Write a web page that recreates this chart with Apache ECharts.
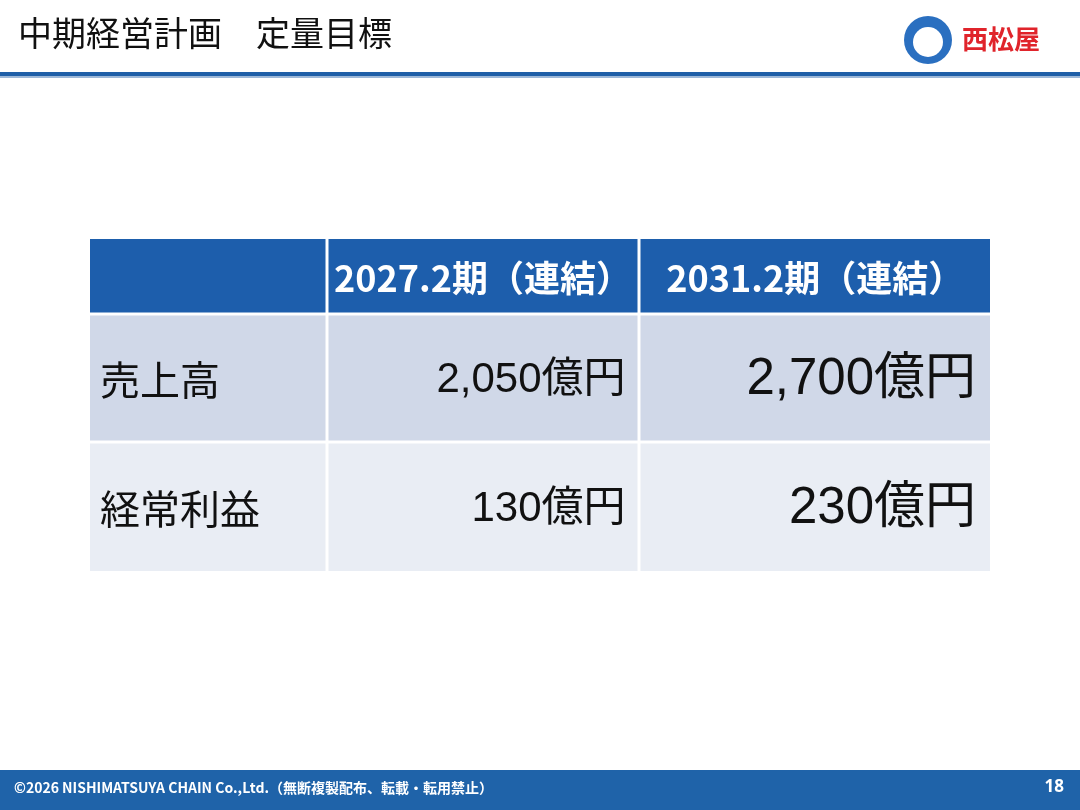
<!DOCTYPE html>
<html><head><meta charset="utf-8">
<script src="https://cdn.jsdelivr.net/npm/echarts@6/dist/echarts.min.js"></script>
<style>html,body{margin:0;padding:0;background:#fff}#c{width:1080px;height:810px}</style>
</head><body><div id="c"></div>
<script>
var periods = ['2027.2期（連結）', '2031.2期（連結）'];
var metrics = ['売上高', '経常利益'];
var target2027 = ['2,050億円', '130億円'];
var target2031 = ['2,700億円', '230億円'];

// layout (px within table grid)
var colEdges = [0, 237, 549, 900];
var rowEdges = [0, 75, 203, 332];
var gap = 3;

var cells = [];
cells.push([0, 0, '', 'head']);
periods.forEach(function (p, i) { cells.push([i + 1, 0, p, 'head']); });
metrics.forEach(function (m, r) {
  cells.push([0, r + 1, m, 'label']);
  cells.push([1, r + 1, target2027[r], 'v1']);
  cells.push([2, r + 1, target2031[r], 'v2']);
});

var rowColors = ['#1d5eac', '#d0d8e8', '#e9edf4'];
var chart = echarts.init(document.getElementById('c'));
chart.setOption({
  animation: false,
  grid: { left: 90, top: 239, width: 900, height: 332 },
  xAxis: { type: 'value', min: 0, max: 900, show: false },
  yAxis: { type: 'value', min: 0, max: 332, inverse: true, show: false },
  series: [{
    type: 'custom',
    data: cells,
    renderItem: function (params, api) {
      var c = api.value(0), r = api.value(1);
      var d = cells[params.dataIndex];
      var p0 = api.coord([colEdges[c], rowEdges[r]]);
      var p1 = api.coord([colEdges[c + 1], rowEdges[r + 1]]);
      var x0 = p0[0] + (c > 0 ? gap / 2 : 0), x1 = p1[0] - (c < 2 ? gap / 2 : 0);
      var y0 = p0[1] + (r > 0 ? gap / 2 : 0), y1 = p1[1] - (r < 2 ? gap / 2 : 0);
      var kind = d[3], txt;
      var cy = (y0 + y1) / 2;
      if (kind === 'head') {
        txt = { x: (x0 + x1) / 2, y: cy + 3, text: d[2], fill: '#fff', align: 'center', verticalAlign: 'middle',
          font: 'bold 36px "Liberation Sans Narrow", "Noto Sans CJK JP", sans-serif' };
      } else if (kind === 'label') {
        txt = { x: x0 + 10, y: cy + 2, text: d[2], fill: '#111', align: 'left', verticalAlign: 'middle',
          font: '40px "Noto Sans CJK JP", sans-serif' };
      } else if (kind === 'v1') {
        txt = { x: x1 - 12, y: cy + 2, text: d[2], fill: '#111', align: 'right', verticalAlign: 'middle',
          font: '42px "Liberation Sans", "Noto Sans CJK JP", sans-serif' };
      } else {
        txt = { x: x1 - 14, y: cy + 2, text: d[2], fill: '#111', align: 'right', verticalAlign: 'middle',
          font: '51px "Liberation Sans", "Noto Sans CJK JP", sans-serif' };
      }
      return { type: 'group', children: [
        { type: 'rect', shape: { x: x0, y: y0, width: x1 - x0, height: y1 - y0 }, style: { fill: rowColors[r] } },
        { type: 'text', style: txt }
      ] };
    }
  }],
  graphic: [
    { type: 'text', left: 18, top: 16, style: { text: '中期経営計画　定量目標', fill: '#111', font: '34px "Noto Sans CJK JP", sans-serif' } },
    { type: 'rect', shape: { x: 0, y: 72, width: 1080, height: 4 }, style: { fill: '#1f5fa8' } },
    { type: 'rect', shape: { x: 0, y: 76, width: 1080, height: 2 }, style: { fill: '#9db8d8' } },
    { type: 'circle', shape: { cx: 928, cy: 40, r: 24 }, style: { fill: '#2a6fc0' } },
    { type: 'circle', shape: { cx: 928, cy: 42, r: 15 }, style: { fill: '#fff' } },
    { type: 'text', left: 962, top: 26, style: { text: '西松屋', fill: '#e0242b', font: 'bold 26px "Noto Sans CJK JP", sans-serif' } },
    { type: 'rect', shape: { x: 0, y: 770, width: 1080, height: 40 }, style: { fill: '#1f63a9' } },
    { type: 'text', left: 14, top: 781, style: { text: '©2026 NISHIMATSUYA CHAIN Co.,Ltd.（無断複製配布、転載・転用禁止）', fill: '#fff', font: 'bold 14px "Noto Sans CJK JP", sans-serif' } },
    { type: 'text', right: 16, top: 779, style: { text: '18', fill: '#fff', font: 'bold 17px "Noto Sans", sans-serif' } }
  ]
});
</script></body></html>
